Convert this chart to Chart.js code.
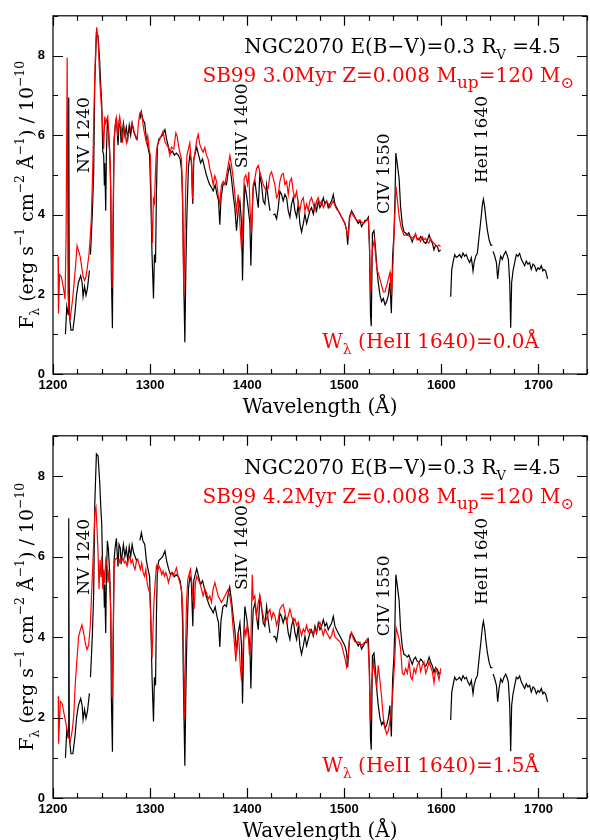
<!DOCTYPE html>
<html>
<head>
<meta charset="utf-8">
<script src="https://cdn.jsdelivr.net/npm/chart.js"></script>
<style>
  html, body { margin: 0; padding: 0; background: #fff; }
  canvas { display: block; }
</style>
</head>
<body>
<canvas id="c1" width="590" height="420"></canvas>
<canvas id="c2" width="590" height="420"></canvas>
<script>
// ---------------- DATA ----------------
// Observed NGC2070 spectrum (same in both panels); null = gap
const obsWave = [1212.8,1214.2,1215.6,1216.2,1216.8,1218.5,1220.5,1222.5,1224.3,1226.2,1228.5,1230.0,1231.0,1232.5,1234.0,1235.5,1237.5,1238.0,
1238.6,1240.5,1241.9,1243.0,1244.7,1246.4,1248.1,1249.1,1250.2,1251.2,1252.2,1252.9,1253.3,1254.3,1255.0,1256.0,1257.0,1258.4,1259.5,1260.1,1261.2,1261.9,1262.9,1263.9,1265.3,1266.3,1267.0,1268.0,1269.4,1270.1,1271.5,1272.5,1274.0,1275.5,1277.0,1278.5,1280.0,1281.5,1283.0,1284.5,1286.0,1287.5,1288.5,
1289.5,1291.0,1292.5,1294.5,1296.2,1297.5,1299.5,1300.8,1302.0,1303.5,1304.5,1305.6,1306.5,1307.5,1309.0,1311.0,1313.0,1315.3,1317.0,1319.0,1321.0,1323.0,1325.0,1327.0,1329.0,1331.0,1332.5,1333.5,1334.5,1335.8,1336.8,1337.8,1339.5,1341.0,1342.5,1344.0,1345.0,1346.5,1348.0,1350.0,1352.0,1354.0,1356.0,1358.0,1360.0,1361.5,1363.0,1365.0,1367.0,1369.0,1370.5,1371.8,1373.0,1375.0,1377.0,1378.7,1380.5,1382.0,1383.9,1385.6,1387.3,1389.0,1390.7,1392.5,1394.2,1395.2,1396.6,1397.6,1399.3,1401.0,1402.8,1403.8,1405.2,1406.2,1408.0,1409.7,1411.4,1413.0,1414.8,1416.5,1418.2,1420.0,1421.7,1423.5,1425.0,
1426.8,1428.5,1430.3,1432.0,1433.7,1435.4,1437.1,1438.9,1440.6,1442.3,1444.0,1445.7,1447.4,1449.2,1450.9,1452.6,1454.3,1456.0,1457.8,1459.5,1461.2,1462.9,1464.6,1466.3,1468.1,1469.8,1471.5,1473.2,1474.9,1476.7,1478.4,1480.1,1481.8,1483.5,1485.2,1487.0,1488.7,1490.4,1492.1,1493.8,1495.6,1497.3,1499.0,1500.7,1502.4,1503.5,1505.3,1507.5,1509.3,1511.0,1512.7,1514.4,1516.1,1517.8,1519.6,1521.3,1523.0,1524.8,1526.0,1527.0,1527.8,1529.0,1530.6,1532.3,1533.7,1535.0,1536.8,1538.5,1540.2,1542.0,1543.7,1545.4,1547.0,1548.5,1549.8,1551.2,1552.2,1553.1,1554.5,1556.5,1558.0,1559.8,1561.5,1563.0,1565.0,1566.5,1568.0,1570.0,1571.7,1573.4,1575.0,1577.0,1578.7,1580.4,1582.0,1584.0,1585.7,1587.4,1589.0,1590.8,1592.4,1594.0,1595.8,1597.5,1599.3,1605.0,
1609.6,1610.7,1612.0,1613.7,1615.4,1617.1,1618.8,1620.6,1622.3,1624.0,1625.7,1627.4,1629.2,1630.9,1632.6,1633.7,1635.4,1637.1,1638.8,1640.6,1642.3,1643.3,1644.7,1645.7,1647.4,1649.2,1650.9,1652.6,1653.0,
1653.3,1655.0,1656.7,1658.0,1659.4,1661.1,1662.8,1664.5,1666.3,1667.6,1669.0,1670.4,1671.4,1672.4,1673.8,1675.5,1677.2,1678.9,1680.6,1682.4,1684.1,1685.8,1687.5,1689.2,1690.9,1692.6,1694.4,1696.1,1697.8,1699.5,1701.2,1702.9,1704.6,1705.7,1707.4,1709.4];
const obsFlux = [1.00,1.70,1.50,6.95,1.50,1.10,1.10,1.50,2.00,2.30,2.47,2.30,1.95,2.20,1.98,2.15,2.60,null,
3.00,4.02,5.08,7.28,8.55,8.50,7.85,7.28,6.80,5.60,5.50,4.75,5.30,4.10,5.50,6.39,6.20,5.60,4.60,2.50,1.15,3.50,5.90,6.20,6.45,6.00,5.75,6.30,6.20,5.81,6.10,6.30,6.00,6.20,5.90,6.25,6.00,6.30,6.10,6.00,5.90,5.95,null,
6.40,6.59,6.40,6.30,5.90,5.73,5.50,4.40,3.00,1.90,3.00,2.80,4.50,5.70,5.90,5.95,6.00,6.14,5.90,5.70,5.55,5.60,5.50,5.55,5.50,5.40,5.10,4.30,2.60,0.80,2.60,3.90,5.20,5.50,5.35,4.27,5.40,5.55,5.70,5.50,5.30,5.40,5.20,5.00,4.85,4.75,4.70,4.60,4.75,4.50,4.35,3.75,4.40,4.75,4.80,4.76,5.08,5.24,4.90,4.50,4.18,3.60,4.10,4.35,3.78,2.35,4.10,4.76,4.50,4.18,3.78,2.72,4.10,4.68,4.84,4.50,4.18,5.00,4.76,4.35,4.27,4.76,4.40,4.10,null,
4.00,4.02,3.90,4.18,4.59,4.51,4.35,4.51,4.43,4.10,3.94,4.27,4.43,4.10,3.94,4.27,3.78,3.57,3.78,4.02,3.78,3.94,4.10,4.18,4.02,4.27,4.10,4.35,4.18,4.27,4.43,4.27,4.35,4.18,4.27,4.35,4.51,4.27,4.18,4.10,4.02,3.94,3.86,3.78,3.61,3.25,3.94,4.10,4.02,3.94,3.86,3.78,3.86,3.70,3.78,3.86,3.86,3.94,3.12,1.49,1.20,3.53,3.60,3.12,2.63,2.30,1.98,1.82,1.90,1.74,1.82,1.98,2.30,1.53,2.96,3.53,4.35,5.55,5.30,4.90,4.20,3.75,3.57,3.55,3.50,3.55,3.45,3.32,3.45,3.50,3.40,3.37,3.45,3.40,3.32,3.28,3.37,3.50,3.37,3.28,3.12,3.24,3.20,3.08,3.12,null,
1.94,2.63,2.80,3.00,2.93,2.96,3.00,2.92,3.04,2.96,3.00,2.88,2.80,2.92,2.59,2.80,2.96,3.04,3.45,3.85,4.26,4.39,4.18,3.94,3.61,3.37,3.24,3.24,null,
3.08,2.96,2.80,2.39,2.72,2.96,2.88,3.00,3.08,3.00,2.88,2.30,1.16,2.30,2.59,2.80,3.00,2.96,3.03,2.88,2.80,2.72,2.84,2.76,2.80,2.63,2.76,2.72,2.59,2.67,2.63,2.72,2.59,2.63,2.59,2.39];

// SB99 model, 3.0 Myr (top panel)
const model1Wave = [1205.2,1205.6,1206.8,1208.5,1210.5,1212.4,1213.5,1214.6,1215.5,1216.5,1217.8,1220.3,1223.0,1224.8,1226.3,1228.0,1229.5,1231.0,1232.5,1234.0,1235.5,1237.0,1238.0,1239.5,1241.0,1242.6,1244.0,1245.0,1246.4,1248.1,1249.1,1250.2,1251.2,1252.2,1253.3,1254.3,1255.3,1256.4,1257.7,1259.1,1260.1,1260.8,1261.9,1262.9,1263.9,1265.3,1266.6,1267.7,1268.7,1270.1,1271.5,1272.9,1274.2,1275.6,1277.0,1278.4,1279.7,1281.1,1282.5,1283.8,1285.2,1286.6,1288.0,1289.3,1290.7,1292.1,1293.5,1294.8,1296.2,1297.6,1299.0,1300.3,1301.7,1302.4,1303.4,1304.5,1305.2,1306.2,1307.6,1310.0,1313.4,1315.1,1316.8,1318.6,1320.3,1322.0,1324.4,1326.5,1327.8,1329.9,1332.3,1333.5,1334.7,1335.6,1336.8,1338.0,1340.9,1342.6,1343.6,1344.5,1346.4,1348.2,1349.5,1351.2,1353.0,1354.6,1356.4,1358.1,1359.8,1361.5,1363.2,1365.0,1366.7,1368.4,1370.1,1371.8,1373.5,1375.3,1377.0,1378.7,1380.4,1382.2,1383.9,1385.6,1387.3,1389.0,1390.7,1392.5,1394.2,1395.2,1396.9,1398.6,1400.4,1401.7,1403.0,1404.5,1406.2,1408.0,1409.6,1411.4,1413.1,1414.8,1416.5,1418.2,1420.0,1421.7,1423.4,1425.1,1426.8,1428.5,1430.3,1432.0,1433.7,1435.4,1437.1,1438.9,1440.6,1442.3,1444.0,1445.7,1447.4,1449.2,1450.9,1452.6,1454.3,1456.0,1457.8,1459.5,1461.2,1462.9,1464.6,1466.3,1468.1,1469.8,1471.5,1473.2,1474.9,1476.7,1478.4,1480.1,1481.8,1483.5,1485.2,1487.0,1488.7,1490.4,1492.1,1493.8,1495.6,1497.3,1499.0,1500.7,1502.4,1504.1,1505.8,1507.5,1509.3,1512.7,1516.1,1519.6,1523.0,1524.8,1526.0,1527.0,1528.9,1531.0,1532.3,1533.7,1535.8,1538.5,1540.2,1542.0,1543.7,1545.4,1547.1,1548.1,1548.8,1550.5,1552.2,1553.3,1554.6,1556.3,1558.4,1561.5,1565.0,1568.3,1571.7,1573.4,1575.1,1576.8,1578.5,1580.2,1582.0,1583.7,1585.4,1587.1,1588.8,1590.6,1592.3,1594.0,1595.7,1597.4,1599.2];
const model1Flux = [2.95,1.52,2.50,2.45,2.20,1.88,3.50,7.95,2.00,1.50,1.40,1.90,2.64,3.22,3.10,2.95,2.70,2.45,2.35,2.45,2.70,3.00,3.30,3.90,5.24,7.04,8.26,8.71,8.43,7.45,7.00,6.60,6.22,5.65,6.47,6.30,6.39,6.47,5.80,5.24,3.20,2.15,4.00,5.80,6.22,6.43,5.98,6.30,6.47,6.22,5.81,6.22,6.06,5.81,6.00,6.06,6.14,6.30,6.22,6.06,5.98,5.90,6.30,6.55,6.59,6.39,6.14,5.98,5.81,5.98,5.65,5.49,3.70,3.29,4.40,4.30,4.84,5.49,5.77,5.90,6.10,5.85,5.77,5.70,5.49,5.70,5.65,6.06,5.98,5.65,5.40,4.50,1.94,3.00,4.80,5.50,5.80,5.30,4.40,5.30,5.60,5.90,6.02,5.77,5.65,5.57,5.69,5.49,5.40,5.16,5.00,4.75,4.98,4.84,4.50,4.27,4.75,4.84,4.76,5.00,5.24,5.49,5.24,4.92,4.51,4.10,4.51,3.78,3.12,3.60,4.92,5.00,4.76,5.08,4.10,3.53,4.76,4.92,5.16,5.24,5.08,4.92,4.76,4.67,4.59,4.67,5.00,5.08,4.92,4.76,4.43,4.51,4.84,5.00,5.04,4.76,4.84,4.51,4.84,4.92,4.59,4.43,4.59,4.27,4.10,4.35,4.43,4.10,4.27,4.10,4.35,4.43,4.27,4.10,4.35,4.43,4.27,4.35,4.18,4.27,4.35,4.27,4.18,4.27,4.35,4.23,4.14,4.10,4.02,3.94,3.86,3.78,3.61,3.45,3.94,4.06,3.98,3.86,3.86,3.78,3.86,3.90,3.29,2.06,3.12,3.37,2.96,2.63,2.47,2.22,2.06,2.06,2.22,2.39,2.55,2.20,1.98,2.96,4.10,4.71,4.40,4.00,3.70,3.49,3.49,3.45,3.41,3.53,3.37,3.41,3.33,3.45,3.37,3.41,3.33,3.29,3.41,3.33,3.29,3.24,3.20,3.24,3.20];

// SB99 model, 4.2 Myr (bottom panel)
const model2Wave = [1205.4,1205.7,1207.6,1209.5,1211.3,1213.0,1214.7,1216.4,1217.8,1219.7,1221.4,1223.0,1224.7,1226.4,1228.1,1229.8,1231.6,1233.3,1235.0,1236.7,1238.4,1240.5,1241.9,1243.3,1244.3,1245.4,1246.4,1247.4,1248.5,1249.5,1250.2,1251.2,1252.2,1253.3,1254.3,1255.7,1256.7,1257.7,1259.1,1260.1,1260.8,1261.9,1262.9,1263.9,1265.3,1266.7,1268.0,1269.4,1270.8,1272.2,1273.5,1274.9,1276.3,1277.7,1279.0,1280.4,1281.8,1283.2,1284.5,1285.9,1287.3,1288.7,1290.0,1291.4,1292.8,1294.2,1295.6,1296.9,1298.3,1299.7,1301.0,1302.0,1303.1,1304.1,1305.2,1306.5,1307.9,1309.3,1310.7,1312.0,1313.4,1314.8,1316.2,1317.5,1318.9,1320.6,1322.3,1324.0,1325.4,1327.1,1328.9,1330.6,1332.3,1333.7,1334.7,1335.4,1336.4,1337.5,1338.8,1340.2,1341.6,1343.0,1344.3,1345.4,1346.7,1348.1,1349.5,1351.2,1352.9,1354.6,1356.4,1358.1,1359.8,1361.5,1363.2,1364.9,1366.7,1368.4,1370.1,1371.8,1373.5,1375.3,1377.0,1378.7,1380.4,1382.2,1383.9,1385.6,1387.3,1388.3,1389.7,1390.7,1391.8,1392.8,1394.2,1395.2,1396.2,1397.6,1398.6,1400.0,1401.1,1402.4,1403.8,1405.2,1406.2,1407.9,1409.6,1411.4,1413.1,1414.8,1416.5,1418.2,1420.0,1421.7,1423.4,1425.1,1426.8,1428.5,1430.3,1432.0,1433.7,1435.4,1437.1,1438.9,1440.6,1442.3,1444.0,1445.7,1447.4,1449.2,1450.9,1452.6,1454.3,1456.0,1457.8,1459.5,1461.2,1462.9,1464.6,1466.3,1468.1,1469.8,1471.5,1473.2,1474.9,1476.7,1478.4,1480.1,1481.8,1483.5,1485.2,1487.0,1488.7,1490.4,1492.1,1493.8,1495.6,1497.3,1499.0,1500.7,1502.4,1504.1,1505.8,1507.5,1509.3,1511.0,1514.4,1517.8,1521.3,1524.1,1525.5,1526.8,1528.2,1530.0,1531.6,1533.3,1535.0,1536.8,1538.5,1540.2,1541.9,1543.7,1545.4,1547.1,1548.8,1550.5,1552.2,1553.3,1556.3,1558.0,1559.8,1561.5,1563.2,1565.0,1566.7,1568.4,1570.0,1571.9,1573.6,1575.3,1577.0,1578.7,1580.4,1582.1,1583.9,1585.6,1587.3,1589.0,1590.7,1592.4,1594.2,1595.9,1597.6,1599.3];
const model2Flux = [2.53,1.35,2.40,2.35,2.10,1.90,1.66,1.50,1.41,1.66,2.05,2.87,3.44,4.01,4.17,4.30,4.10,3.85,3.69,3.79,4.28,5.50,6.33,7.15,7.23,6.66,6.09,5.19,5.92,5.50,6.00,5.19,5.68,5.35,5.92,5.76,5.35,5.68,4.94,3.72,2.49,3.90,5.68,5.92,5.96,5.92,5.84,5.96,5.88,5.96,5.84,5.88,5.76,5.92,6.00,5.84,5.92,5.76,5.68,5.88,5.92,5.80,5.68,5.84,5.60,5.51,5.68,5.35,5.19,5.10,4.20,3.47,4.29,4.94,5.35,5.76,5.64,5.76,5.68,5.55,5.64,5.51,5.60,5.51,5.35,5.51,5.60,5.51,5.60,5.72,5.51,5.35,5.19,4.70,3.07,2.00,3.47,4.86,5.43,5.56,5.68,5.35,4.94,4.70,5.35,5.51,5.43,5.35,5.19,5.02,5.19,5.10,4.94,5.02,4.86,5.19,5.35,5.19,5.02,4.94,4.86,4.94,5.02,5.10,5.18,5.00,4.73,4.20,3.71,3.39,3.90,4.12,3.79,3.30,2.90,3.39,3.96,4.20,4.04,4.29,4.04,3.55,3.90,5.55,4.94,5.02,4.53,4.86,5.02,4.69,4.53,4.37,4.45,4.61,4.69,4.45,4.61,4.53,4.29,4.45,4.69,4.77,4.81,4.61,4.37,4.53,4.69,4.53,4.37,4.45,4.29,4.37,4.20,4.04,4.20,4.12,4.29,4.12,4.20,4.12,4.04,4.20,4.12,4.29,4.37,4.20,4.04,4.20,4.12,4.04,3.96,4.04,4.20,4.00,3.96,3.92,3.88,3.79,3.63,3.47,3.26,3.55,4.04,4.12,3.96,3.88,3.88,3.79,3.88,3.96,3.39,1.92,2.90,3.39,3.06,2.73,3.30,2.90,2.49,2.00,1.75,1.59,1.67,1.92,2.24,2.82,3.55,4.24,3.96,3.71,3.10,3.06,3.22,3.10,3.38,3.02,2.94,3.22,3.10,3.30,3.38,3.14,3.30,3.38,3.10,3.22,3.38,3.26,3.14,2.86,3.22,3.10,2.94,3.22];

// Axes
const xRange = [1200, 1750];
const yRange = [0, 9];
const xTickLabels = [1200, 1300, 1400, 1500, 1600, 1700];
const yTickLabels = [0, 2, 4, 6, 8];
const xMinorStep = 25;
const yMinorStep = 1;

// Line identifications: [label, wavelength at baseline, flux at text start]
const lineIds = [["NV 1240", 1236.8, 5.05], ["SiIV 1400", 1400.3, 5.17], ["CIV 1550", 1546.3, 4.02], ["HeII 1640", 1647.0, 4.8]];

const panels = [
  { id: "c1", wave: model1Wave, flux: model1Flux, age: "3.0Myr", ew: "0.0Å", padTop: 7, xH: 46 },
  { id: "c2", wave: model2Wave, flux: model2Flux, age: "4.2Myr", ew: "1.5Å", padTop: 10, xH: 42 }
];

// ---------------- DRAWING ----------------
const SERIF = '"DejaVu Serif", serif';
const TICKFONT = { family: '"Liberation Sans Narrow", "Liberation Sans", sans-serif', size: 13, weight: 'bold' };

// parts: [text, mode(0 normal, 1 sup, -1 sub), optional scale]
function partSize(part, size) { return part[1] === 0 ? size : size * (part[2] || 0.65); }
function richWidth(ctx, parts, size) {
  let w = 0;
  for (const pt of parts) {
    ctx.font = partSize(pt, size) + 'px ' + SERIF;
    w += ctx.measureText(pt[0]).width;
  }
  return w;
}
function drawRich(ctx, parts, x, y, size, color, align) {
  const w = richWidth(ctx, parts, size);
  let cx = align === 'right' ? x - w : align === 'center' ? x - w / 2 : x;
  ctx.fillStyle = color;
  ctx.textBaseline = 'alphabetic';
  ctx.textAlign = 'left';
  for (const pt of parts) {
    const m = pt[1];
    ctx.font = partSize(pt, size) + 'px ' + SERIF;
    const dy = m === 1 ? -size * 0.45 : m === -1 ? size * 0.3 : 0;
    ctx.fillText(pt[0], cx, y + dy);
    cx += ctx.measureText(pt[0]).width;
  }
}

function makeChart(p) {
  const decor = {
    id: 'decor',
    afterDatasetsDraw(chart) {
      const ctx = chart.ctx;
      const a = chart.chartArea;
      const xs = chart.scales.x, ys = chart.scales.y;
      ctx.save();
      ctx.strokeStyle = '#000';
      ctx.lineWidth = 1.2;
      ctx.strokeRect(a.left, a.top, a.right - a.left, a.bottom - a.top);
      ctx.beginPath();
      for (let v = xRange[0]; v <= xRange[1]; v += xMinorStep) {
        const px = Math.round(xs.getPixelForValue(v)) + 0.5;
        const L = xTickLabels.includes(v) ? 10 : 5;
        ctx.moveTo(px, a.bottom); ctx.lineTo(px, a.bottom - L);
        ctx.moveTo(px, a.top); ctx.lineTo(px, a.top + L);
      }
      for (let v = yRange[0]; v <= yRange[1]; v += yMinorStep) {
        const py = Math.round(ys.getPixelForValue(v)) + 0.5;
        const L = yTickLabels.includes(v) ? 10 : 5;
        ctx.moveTo(a.left, py); ctx.lineTo(a.left + L, py);
        ctx.moveTo(a.right, py); ctx.lineTo(a.right - L, py);
      }
      ctx.stroke();

      // header texts
      drawRich(ctx, [["NGC2070 E(B−V)=0.3 R", 0], ["V", -1, 0.65], [" =4.5", 0]],
        xs.getPixelForValue(1723), ys.getPixelForValue(8.06), 20, '#000', 'right');
      drawRich(ctx, [["SB99 " + p.age + " Z=0.008 M", 0], ["up", -1, 0.85], ["=120 M", 0], ["⊙", -1, 0.8]],
        xs.getPixelForValue(1736.5), ys.getPixelForValue(7.33), 20, '#ff0000', 'right');
      drawRich(ctx, [["W", 0], ["λ", -1, 0.7], [" (HeII 1640)=" + p.ew, 0]],
        xs.getPixelForValue(1700.6), ys.getPixelForValue(0.65), 20, '#ff0000', 'right');

      // line identifications (rotated)
      ctx.fillStyle = '#000';
      ctx.font = '17px ' + SERIF;
      for (const [lab, w, f] of lineIds) {
        ctx.save();
        ctx.translate(xs.getPixelForValue(w), ys.getPixelForValue(f));
        ctx.rotate(-Math.PI / 2);
        ctx.textAlign = 'left';
        ctx.textBaseline = 'alphabetic';
        ctx.fillText(lab, 0, 0);
        ctx.restore();
      }

      // axis titles
      drawRich(ctx, [["Wavelength (Å)", 0]], (a.left + a.right) / 2, a.bottom + 39, 20, '#000', 'center');
      ctx.save();
      ctx.translate(33, (a.top + a.bottom) / 2);
      ctx.rotate(-Math.PI / 2);
      drawRich(ctx, [["F", 0], ["λ", -1], [" (erg s", 0], ["−1", 1], [" cm", 0], ["−2", 1], [" Å", 0], ["−1", 1], [") / 10", 0], ["−10", 1]],
        0, 0, 19, '#000', 'center');
      ctx.restore();
      ctx.restore();
    }
  };

  const xy = (w, f) => w.map((x, i) => ({ x: x, y: f[i] }));
  return new Chart(document.getElementById(p.id), {
    type: 'line',
    data: {
      datasets: [
        { data: xy(p.wave, p.flux), borderColor: '#ff0000', borderWidth: 1.2, pointRadius: 0, tension: 0, spanGaps: false },
        { data: xy(obsWave, obsFlux), borderColor: '#000000', borderWidth: 1.2, pointRadius: 0, tension: 0, spanGaps: false }
      ]
    },
    options: {
      responsive: false,
      animation: false,
      devicePixelRatio: 1,
      layout: { padding: { top: p.padTop, right: 3, left: 0, bottom: 0 } },
      plugins: { legend: { display: false }, tooltip: { enabled: false } },
      scales: {
        x: {
          type: 'linear', min: xRange[0], max: xRange[1],
          afterBuildTicks: s => { s.ticks = xTickLabels.map(v => ({ value: v })); },
          afterFit: s => { s.height = p.xH; },
          grid: { display: false, drawTicks: false },
          border: { display: false },
          ticks: { color: '#000', font: TICKFONT, padding: 4, maxRotation: 0, autoSkip: false, callback: v => String(v) }
        },
        y: {
          type: 'linear', min: yRange[0], max: yRange[1],
          afterBuildTicks: s => { s.ticks = yTickLabels.map(v => ({ value: v })); },
          afterFit: s => { s.width = 53; },
          grid: { display: false, drawTicks: false },
          border: { display: false },
          ticks: { color: '#000', font: TICKFONT, padding: 8, callback: v => String(v) }
        }
      }
    },
    plugins: [decor]
  });
}
panels.forEach(makeChart);
</script>
</body>
</html>
